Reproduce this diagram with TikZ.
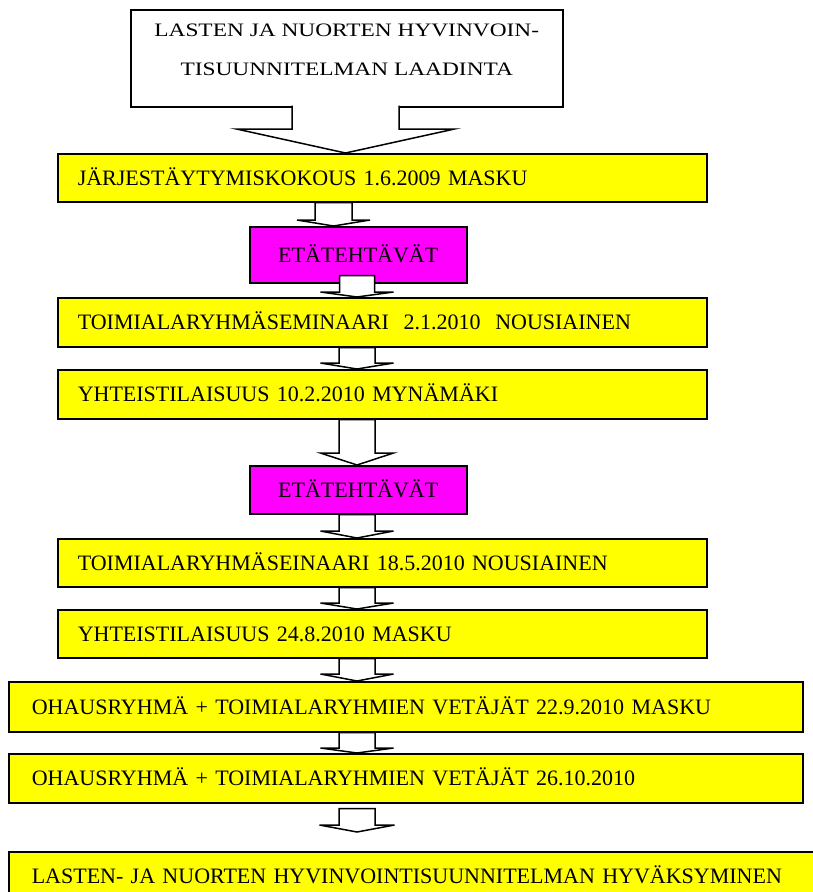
\documentclass[tikz,border=0pt]{standalone}
\usepackage{fontspec}
\setmainfont{Liberation Serif}
\newfontfamily\stretchfont[FakeStretch=1.23]{Liberation Serif}
\usetikzlibrary{calc}
\definecolor{planyellow}{RGB}{255,255,0}
\definecolor{planmagenta}{RGB}{255,0,255}

\tikzset{
  stem width/.store in=\stemw,
  head width/.store in=\headw,
  head length/.store in=\headl,
  stem width=18pt, head width=36.5pt, head length=6pt,
  plan.callout/.style={rectangle, draw=black, line width=1.5pt, fill=white, anchor=north west, minimum width=432pt, minimum height=97pt, align=center, text depth=17pt, font=\stretchfont\fontsize{19}{39}\selectfont},
  plan.meeting/.style={rectangle, draw=black, line width=1.5pt, fill=planyellow, anchor=north west, minimum height=48pt, inner xsep=20pt, text width=#1, align=left, text height=15pt, text depth=0pt, font=\fontsize{22}{26}\selectfont},
  plan.meeting/.default=609pt,
  plan.task/.style={rectangle, draw=black, line width=1.5pt, fill=planmagenta, anchor=north west, minimum width=217pt, minimum height=48pt, text height=15pt, text depth=0pt, font=\fontsize{22}{26}\selectfont},
  plan.flow/.style={draw=black, fill=white, line width=1.5pt, to path={let \p1=(\tikztostart), \p2=(\tikztotarget) in (\x1-\stemw,\y1) -- (\x1-\stemw,\y2+\headl) -- (\x1-\headw,\y2+\headl) -- (\x2,\y2) -- (\x1+\headw,\y2+\headl) -- (\x1+\stemw,\y2+\headl) -- (\x1+\stemw,\y1) -- cycle}},
  plan.callflow/.style={draw=black, fill=white, line width=1.5pt, to path={let \p1=(\tikztostart), \p2=(\tikztotarget) in (\x1-\stemw,\y1) -- (\x1-\stemw,\y2+\headl) -- (\x1-\headw,\y2+\headl) -- (\x2,\y2) -- (\x1+\headw,\y2+\headl) -- (\x1+\stemw,\y2+\headl) -- (\x1+\stemw,\y1)}},
}

\begin{document}
\begin{tikzpicture}[x=1pt, y=-1pt]
\useasboundingbox (0,0) rectangle (813,892);
\clip (0,0) rectangle (813,892);

\coordinate (colT) at (345.5,0);
\coordinate (colA) at (333.5,0);
\coordinate (colB) at (357,0);

\node[plan.callout] (top) at (130,9) {LASTEN JA NUORTEN HYVINVOIN-\\TISUUNNITELMAN LAADINTA};
\node[plan.meeting] (jarj) at (57,153) {JÄRJESTÄYTYMISKOKOUS 1.6.2009 MASKU};
\node[plan.task, minimum height=56pt] (et1) at (249,226) {ETÄTEHTÄVÄT};
\node[plan.meeting, minimum height=49pt] (toim1) at (57,297) {TOIMIALARYHMÄSEMINAARI\ \ 2.1.2010\ \ NOUSIAINEN};
\node[plan.meeting, minimum height=49pt] (yht1) at (57,369) {YHTEISTILAISUUS 10.2.2010 MYNÄMÄKI};
\node[plan.task] (et2) at (249,465) {ETÄTEHTÄVÄT};
\node[plan.meeting] (toim2) at (57,538) {TOIMIALARYHMÄSEINAARI 18.5.2010 NOUSIAINEN};
\node[plan.meeting] (yht2) at (57,609) {YHTEISTILAISUUS 24.8.2010 MASKU};
\node[plan.meeting=748pt, inner xsep=23pt, minimum height=50pt] (ohj1) at (8,681) {OHAUSRYHMÄ + TOIMIALARYHMIEN VETÄJÄT 22.9.2010 MASKU};
\node[plan.meeting=748pt, inner xsep=23pt, minimum height=49pt] (ohj2) at (8,753) {OHAUSRYHMÄ + TOIMIALARYHMIEN VETÄJÄT 26.10.2010};
\node[plan.meeting=784pt, inner xsep=23pt] (hyv) at (8,851) {LASTEN- JA NUORTEN HYVINVOINTISUUNNITELMAN HYVÄKSYMINEN};

\draw[plan.callflow, stem width=53.5pt, head width=109pt, head length=24pt] ($(top.south -| colT)+(0,-2)$) to (jarj.north -| colT);
\draw[plan.flow, stem width=18.5pt] (jarj.south -| colA) to (et1.north -| colA);
\draw[plan.flow, stem width=17.5pt, head length=5pt] ($(et1.south -| colB)+(0,-8)$) to (toim1.north -| colB);
\draw[plan.flow] (toim1.south -| colB) to (yht1.north -| colB);
\draw[plan.flow, head length=12pt] (yht1.south -| colB) to (et2.north -| colB);
\draw[plan.flow, head length=7pt] (et2.south -| colB) to (toim2.north -| colB);
\draw[plan.flow] (toim2.south -| colB) to (yht2.north -| colB);
\draw[plan.flow, head length=7pt] (yht2.south -| colB) to (ohj1.north -| colB);
\draw[plan.flow, head length=5pt] (ohj1.south -| colB) to (ohj2.north -| colB);
\draw[plan.flow, head length=7pt, head width=37.5pt] ($(ohj2.south -| colB)+(0,5)$) to ($(hyv.north -| colB)+(0,-19)$);
\end{tikzpicture}
\end{document}
